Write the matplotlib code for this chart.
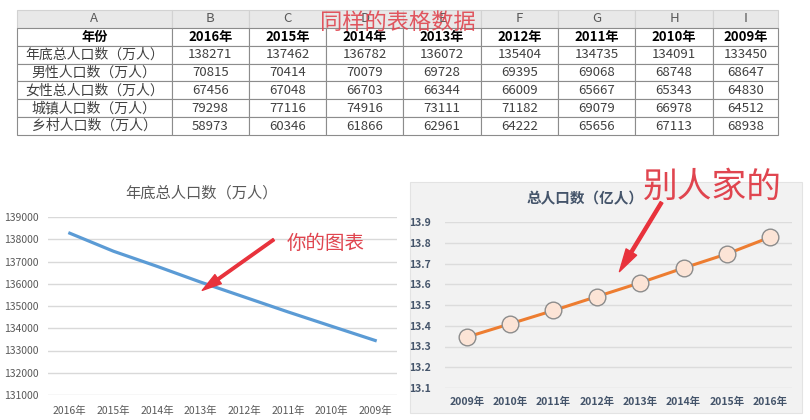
import matplotlib
matplotlib.use("Agg")
import matplotlib.pyplot as plt
from matplotlib.patches import Rectangle, FancyArrowPatch

plt.rcParams['font.family'] = ['Noto Sans CJK SC', 'DejaVu Sans']

# table data (spreadsheet)
col_letters = ['A', 'B', 'C', 'D', 'E', 'F', 'G', 'H', 'I']
years = ['2016年', '2015年', '2014年', '2013年', '2012年', '2011年', '2010年', '2009年']
row_names = ['年底总人口数（万人）', '男性人口数（万人）', '女性总人口数（万人）',
             '城镇人口数（万人）', '乡村人口数（万人）']
total = [138271, 137462, 136782, 136072, 135404, 134735, 134091, 133450]
male = [70815, 70414, 70079, 69728, 69395, 69068, 68748, 68647]
female = [67456, 67048, 66703, 66344, 66009, 65667, 65343, 64830]
urban = [79298, 77116, 74916, 73111, 71182, 69079, 66978, 64512]
rural = [58973, 60346, 61866, 62961, 64222, 65656, 67113, 68938]

W, H = 810, 420
def fx(x): return x / W
def fy(y): return 1 - y / H

fig = plt.figure(figsize=(8.1, 4.2), dpi=100)
fig.patch.set_facecolor('white')

# ---- table ----
tax = fig.add_axes([fx(17), fy(135), fx(778) - fx(17), fy(10) - fy(135)])
tax.axis('off')
cells = [col_letters, ['年份'] + years]
for name, vals in zip(row_names, [total, male, female, urban, rural]):
    cells.append([name] + [str(v) for v in vals])
widths = [156] + [78] * 7 + [66]
widths = [w / sum(widths) for w in widths]
tbl = tax.table(cellText=cells, cellLoc='center', colWidths=widths, bbox=[0, 0, 1, 1])
tbl.auto_set_font_size(False)
tbl.set_fontsize(9.5)
for (r, c), cell in tbl.get_celld().items():
    cell.set_linewidth(0.8)
    if r == 0:
        cell.set_facecolor('#E8E8E8')
        cell.set_edgecolor('#D2D2D2')
        cell.get_text().set_color('#595959')
    else:
        cell.set_facecolor('white')
        cell.set_edgecolor('#8C8C8C')
        cell.get_text().set_color('#404040')
    if c == 0 and r > 1:
        cell.get_text().set_fontsize(10)
    if r == 1:
        cell.get_text().set_fontweight('bold')
        cell.get_text().set_color('black')

fig.text(fx(398), fy(22), '同样的表格数据', color='#E0454F', fontsize=16,
         fontweight='light', ha='center', va='center', alpha=0.9)

# ---- left chart ----
ax1 = fig.add_axes([fx(48), fy(395), fx(397) - fx(48), fy(217) - fy(395)])
ax1.plot(range(len(years)), total, color='#5B9BD5', lw=2.3)
ax1.set_xlim(-0.5, len(years) - 0.5)
ax1.set_ylim(131000, 139000)
ax1.set_yticks(range(131000, 139001, 1000))
ax1.set_xticks(range(len(years)))
ax1.set_xticklabels(years)
ax1.grid(axis='y', color='#D9D9D9', lw=1)
ax1.set_axisbelow(True)
for s in ax1.spines.values():
    s.set_visible(False)
ax1.tick_params(length=0, labelsize=7.5, colors='#595959')
ax1.tick_params(axis='y', pad=7)
ax1.tick_params(axis='x', pad=8)
fig.text(fx(201), fy(193), '年底总人口数（万人）', fontsize=11, color='#595959',
         ha='center', va='center')

fig.text(fx(326), fy(243), '你的图表', color='#E0454F', fontsize=14,
         fontweight='light', ha='center', va='center')
fig.add_artist(FancyArrowPatch((fx(276), fy(238)), (fx(200), fy(292)),
                               transform=fig.transFigure, color='#E8323C',
                               arrowstyle='simple,head_width=0.8,head_length=1.4,tail_width=0.18',
                               mutation_scale=10))

# ---- right chart ----
fig.add_artist(Rectangle((fx(410), fy(413)), fx(802) - fx(410), fy(182) - fy(413),
                         transform=fig.transFigure, facecolor='#F2F2F2',
                         edgecolor='#E3E3E3', lw=0.8, zorder=0))
yrs_up = years[::-1]
total_yi = [v / 10000 for v in total[::-1]]
ax2 = fig.add_axes([fx(445), fy(388), fx(792) - fx(445), fy(222) - fy(388)])
ax2.set_facecolor('none')
ax2.plot(range(len(yrs_up)), total_yi, color='#ED7D31', lw=2.2, marker='o',
         markersize=12, markerfacecolor='#FCE4D6', markeredgecolor='#8C8C8C',
         markeredgewidth=1.0)
ax2.set_xlim(-0.5, len(yrs_up) - 0.5)
ax2.set_ylim(13.1, 13.9)
ax2.set_yticks([13.1, 13.2, 13.3, 13.4, 13.5, 13.6, 13.7, 13.8, 13.9])
ax2.set_xticks(range(len(yrs_up)))
ax2.set_xticklabels(yrs_up)
ax2.grid(axis='y', color='#DCDCDC', lw=1)
ax2.set_axisbelow(True)
for s in ax2.spines.values():
    s.set_visible(False)
ax2.tick_params(length=0, labelsize=7.5, colors='#44546A')
ax2.tick_params(axis='y', pad=10)
ax2.tick_params(axis='x', pad=6)
for lab in ax2.get_xticklabels() + ax2.get_yticklabels():
    lab.set_fontweight('bold')
fig.text(fx(585), fy(198), '总人口数（亿人）', fontsize=10.5, color='#44546A',
         fontweight='bold', ha='center', va='center')

fig.text(fx(712), fy(187), '别人家的', color='#E0454F', fontsize=25,
         fontweight='light', ha='center', va='center')
fig.add_artist(FancyArrowPatch((fx(663), fy(200)), (fx(618), fy(274)),
                               transform=fig.transFigure, color='#E8323C',
                               arrowstyle='simple,head_width=0.8,head_length=1.5,tail_width=0.2',
                               mutation_scale=11))

fig.savefig('out.png', dpi=100)
